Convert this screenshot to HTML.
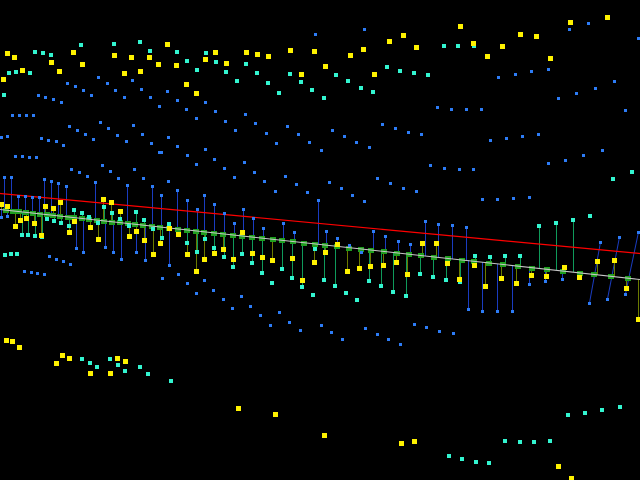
<!DOCTYPE html>
<html>
<head>
<meta charset="utf-8">
<style>
html,body{margin:0;padding:0;background:#000;}
svg{display:block;}
</style>
</head>
<body>
<svg width="640" height="480" viewBox="0 0 640 480" xmlns="http://www.w3.org/2000/svg">
<rect x="0" y="0" width="640" height="480" fill="#000"/>

<!-- blue stems -->
<path fill="none" stroke="#1a3cc0" stroke-width="1" d="M4.5 177V210 M11.5 177V211 M18.5 196V211 M25.5 196V212 M32.5 197V213 M39.5 197V214 M44.5 179V214 M51.5 181V215 M58.5 183V216 M66.5 186V217 M95.5 182V220 M127.5 185V223 M152.5 186V226 M161.5 195V227 M177.5 190V229 M187.5 200V230 M197.5 209V231 M204.5 195V232 M214.5 204V233 M224.5 213V234 M234.5 223V235 M243.5 209V236 M253.5 218V237 M263.5 228V238 M283.5 223V240 M294.5 232V242 M318.5 200V244 M326.5 231V245 M337.5 238V246 M349.5 245V248 M373.5 231V250 M385.5 236V251 M398.5 241V253 M410.5 244V254 M425.5 221V256 M438.5 224V257 M452.5 225V259 M466.5 227V260 M600.5 242L589.5 303 M619.5 237L607.5 299 M638.5 232L625.5 294 M1.5 209V217 M7.5 210V216 M76.5 218V248 M83.5 218V252 M105.5 221V247 M113.5 222V252 M121.5 222V259 M136.5 224V252 M145.5 225V260 M169.5 228V265 M468.5 260V309 M482.5 262V311 M497.5 264V311 M512.5 265V311 M529.5 267V284 M545.5 269V281 M562.5 271V279"/>

<!-- yellow stems -->
<path fill="none" stroke="#6a7a00" stroke-width="1" d="M1.5 209V204 M7.5 210V206 M15.5 211V226 M20.5 212V220 M26.5 212V218 M34.5 213V223 M41.5 214V235 M45.5 214V206 M53.5 215V208 M60.5 216V202 M69.5 217V232 M74.5 217V221 M90.5 219V227 M98.5 220V239 M103.5 221V199 M111.5 221V202 M120.5 222V211 M129.5 223V236 M136.5 224V231 M144.5 225V240 M153.5 226V254 M160.5 227V243 M178.5 229V234 M187.5 230V254 M196.5 231V271 M204.5 232V259 M214.5 233V253 M223.5 234V249 M233.5 235V259 M242.5 236V232 M252.5 237V253 M262.5 238V257 M272.5 239V260 M292.5 241V258 M302.5 242V280 M314.5 244V262 M325.5 245V252 M337.5 246V244 M347.5 247V271 M359.5 249V268 M370.5 250V266 M383.5 251V265 M396.5 253V262 M407.5 254V274 M422.5 256V243 M436.5 257V243 M447.5 258V263 M459.5 260V279 M474.5 261V265 M485.5 262V286 M501.5 264V278 M516.5 266V283 M531.5 267V275 M546.5 269V276 M564.5 271V267 M579.5 273V277 M597.5 275V261 M614.5 277V260 M626.5 278V288 M638.5 279V319"/>

<!-- cyan stems -->
<path fill="none" stroke="#0f9a5a" stroke-width="1" d="M22.5 212V235 M28.5 212V235 M35.5 213V236 M42.5 214V237 M47.5 214V219 M54.5 215V221 M61.5 216V223 M69.5 217V226 M74.5 217V210 M82.5 218V213 M89.5 219V217 M98.5 220V223 M104.5 221V207 M112.5 222V213 M120.5 222V219 M136.5 224V212 M144.5 225V220 M153.5 226V229 M129.5 223V226 M169.5 228V224 M162.5 227V238 M187.5 230V243 M197.5 231V252 M205.5 232V239 M214.5 233V248 M224.5 234V257 M233.5 235V267 M242.5 236V254 M252.5 237V263 M262.5 238V273 M282.5 240V269 M292.5 241V278 M302.5 242V287 M315.5 244V249 M324.5 245V280 M335.5 246V286 M369.5 250V281 M381.5 251V286 M393.5 252V292 M406.5 254V296 M420.5 255V274 M433.5 257V277 M446.5 258V280 M460.5 260V282 M475.5 261V256 M490.5 263V257 M505.5 265V256 M520.5 266V256 M539.5 268V226 M556.5 270V223 M573.5 272V220"/>

<!-- red line -->
<path d="M0 193.5 L640 253.5" stroke="#ff0000" stroke-width="1.2" fill="none"/>

<!-- green markers -->
<path fill="#1e9e1e" shape-rendering="crispEdges" d="M3 208h6v5h-6z M10 209h6v5h-6z M16 209h6v5h-6z M23 210h6v5h-6z M30 211h6v5h-6z M37 212h6v5h-6z M44 212h6v5h-6z M50 213h6v5h-6z M57 214h6v5h-6z M65 215h6v5h-6z M71 215h6v5h-6z M79 216h6v5h-6z M86 217h6v5h-6z M94 218h6v5h-6z M101 219h6v5h-6z M109 220h6v5h-6z M117 220h6v5h-6z M125 221h6v5h-6z M132 222h6v5h-6z M140 223h6v5h-6z M149 224h6v5h-6z M157 225h6v5h-6z M166 226h6v5h-6z M175 227h6v5h-6z M184 228h6v5h-6z M193 229h6v5h-6z M201 230h6v5h-6z M211 231h6v5h-6z M220 232h6v5h-6z M230 233h6v5h-6z M239 234h6v5h-6z M249 235h6v5h-6z M259 236h6v5h-6z M270 237h6v5h-6z M279 238h6v5h-6z M290 239h6v5h-6z M301 241h6v5h-6z M312 242h6v5h-6z M322 243h6v5h-6z M334 244h6v5h-6z M346 246h6v5h-6z M358 247h6v5h-6z M368 248h6v5h-6z M381 249h6v5h-6z M394 251h6v5h-6z M406 252h6v5h-6z M418 253h6v5h-6z M431 255h6v5h-6z M445 256h6v5h-6z M459 258h6v5h-6z M471 259h6v5h-6z M486 261h6v5h-6z M500 262h6v5h-6z M515 264h6v5h-6z M529 266h6v5h-6z M544 267h6v5h-6z M560 269h6v5h-6z M577 271h6v5h-6z M591 272h6v5h-6z M608 274h6v5h-6z M625 276h6v5h-6z"/>

<!-- gray line -->
<path d="M0 209.5 L640 279.5" stroke="#c8c8c8" stroke-width="1" fill="none"/>

<!-- blue points -->
<path fill="#2d7cf6" shape-rendering="crispEdges" d="M66 82h3v3h-3z M74 85h3v3h-3z M82 89h3v3h-3z M90 94h3v3h-3z M97 76h3v3h-3z M106 82h3v3h-3z M114 89h3v3h-3z M123 96h3v3h-3z M131 79h3v3h-3z M140 88h3v3h-3z M149 96h3v3h-3z M158 105h3v3h-3z M37 94h3v3h-3z M44 96h3v3h-3z M52 98h3v3h-3z M60 101h3v3h-3z M11 114h3v3h-3z M18 114h3v3h-3z M25 114h3v3h-3z M32 114h3v3h-3z M68 125h3v3h-3z M76 129h3v3h-3z M84 133h3v3h-3z M92 138h3v3h-3z M99 121h3v3h-3z M107 127h3v3h-3z M116 134h3v3h-3z M125 140h3v3h-3z M132 124h3v3h-3z M141 133h3v3h-3z M150 142h3v3h-3z M158 151h3v3h-3z M0 136h3v3h-3z M6 135h3v3h-3z M40 137h3v3h-3z M47 139h3v3h-3z M55 140h3v3h-3z M62 144h3v3h-3z M14 155h3v3h-3z M21 155h3v3h-3z M28 156h3v3h-3z M35 156h3v3h-3z M70 168h3v3h-3z M78 171h3v3h-3z M86 175h3v3h-3z M101 164h3v3h-3z M109 170h3v3h-3z M117 177h3v3h-3z M133 168h3v3h-3z M142 177h3v3h-3z M314 33h3v3h-3z M166 90h3v3h-3z M176 99h3v3h-3z M185 108h3v3h-3z M195 117h3v3h-3z M204 101h3v3h-3z M214 110h3v3h-3z M224 120h3v3h-3z M234 129h3v3h-3z M244 113h3v3h-3z M254 122h3v3h-3z M265 132h3v3h-3z M275 142h3v3h-3z M286 125h3v3h-3z M297 133h3v3h-3z M308 141h3v3h-3z M167 136h3v3h-3z M176 145h3v3h-3z M186 154h3v3h-3z M195 163h3v3h-3z M204 148h3v3h-3z M213 158h3v3h-3z M223 167h3v3h-3z M233 176h3v3h-3z M243 161h3v3h-3z M253 171h3v3h-3z M263 180h3v3h-3z M274 190h3v3h-3z M284 175h3v3h-3z M295 183h3v3h-3z M306 191h3v3h-3z M160 151h3v3h-3z M167 180h3v3h-3z M363 28h3v3h-3z M436 106h3v3h-3z M450 108h3v3h-3z M465 108h3v3h-3z M331 129h3v3h-3z M343 135h3v3h-3z M355 141h3v3h-3z M368 146h3v3h-3z M320 149h3v3h-3z M381 123h3v3h-3z M394 127h3v3h-3z M407 131h3v3h-3z M420 133h3v3h-3z M429 164h3v3h-3z M443 167h3v3h-3z M458 168h3v3h-3z M472 168h3v3h-3z M328 181h3v3h-3z M340 187h3v3h-3z M351 194h3v3h-3z M363 200h3v3h-3z M376 177h3v3h-3z M389 182h3v3h-3z M402 187h3v3h-3z M415 190h3v3h-3z M587 22h3v3h-3z M568 28h3v3h-3z M637 37h3v3h-3z M497 76h3v3h-3z M514 73h3v3h-3z M530 70h3v3h-3z M547 68h3v3h-3z M557 97h3v3h-3z M575 92h3v3h-3z M594 87h3v3h-3z M613 80h3v3h-3z M624 109h3v3h-3z M480 108h3v3h-3z M489 139h3v3h-3z M505 137h3v3h-3z M521 135h3v3h-3z M537 133h3v3h-3z M547 162h3v3h-3z M564 159h3v3h-3z M582 154h3v3h-3z M601 149h3v3h-3z M481 198h3v3h-3z M496 198h3v3h-3z M512 197h3v3h-3z M528 196h3v3h-3z M48 255h3v3h-3z M55 258h3v3h-3z M62 260h3v3h-3z M69 263h3v3h-3z M23 270h3v3h-3z M30 271h3v3h-3z M36 272h3v3h-3z M43 273h3v3h-3z M161 277h3v3h-3z M177 273h3v3h-3z M186 282h3v3h-3z M195 292h3v3h-3z M203 279h3v3h-3z M212 289h3v3h-3z M222 298h3v3h-3z M231 307h3v3h-3z M240 295h3v3h-3z M249 305h3v3h-3z M259 314h3v3h-3z M269 324h3v3h-3z M278 311h3v3h-3z M288 321h3v3h-3z M299 329h3v3h-3z M320 324h3v3h-3z M330 331h3v3h-3z M341 338h3v3h-3z M364 327h3v3h-3z M376 333h3v3h-3z M387 338h3v3h-3z M399 343h3v3h-3z M413 323h3v3h-3z M425 326h3v3h-3z M438 330h3v3h-3z M452 332h3v3h-3z M3 176h3v3h-3z M10 176h3v3h-3z M17 195h3v3h-3z M24 195h3v3h-3z M31 196h3v3h-3z M38 196h3v3h-3z M43 178h3v3h-3z M50 180h3v3h-3z M57 182h3v3h-3z M65 185h3v3h-3z M94 181h3v3h-3z M126 184h3v3h-3z M151 185h3v3h-3z M160 194h3v3h-3z M176 189h3v3h-3z M186 199h3v3h-3z M196 208h3v3h-3z M203 194h3v3h-3z M213 203h3v3h-3z M223 212h3v3h-3z M233 222h3v3h-3z M242 208h3v3h-3z M252 217h3v3h-3z M262 227h3v3h-3z M282 222h3v3h-3z M293 231h3v3h-3z M317 199h3v3h-3z M325 230h3v3h-3z M336 237h3v3h-3z M348 244h3v3h-3z M360 251h3v3h-3z M372 230h3v3h-3z M384 235h3v3h-3z M397 240h3v3h-3z M409 243h3v3h-3z M424 220h3v3h-3z M437 223h3v3h-3z M451 224h3v3h-3z M465 226h3v3h-3z M599 241h3v3h-3z M618 236h3v3h-3z M637 231h3v3h-3z M0 216h3v3h-3z M6 215h3v3h-3z M75 247h3v3h-3z M82 251h3v3h-3z M104 246h3v3h-3z M112 251h3v3h-3z M120 258h3v3h-3z M135 251h3v3h-3z M144 259h3v3h-3z M168 264h3v3h-3z M467 308h3v3h-3z M481 310h3v3h-3z M496 310h3v3h-3z M511 310h3v3h-3z M528 283h3v3h-3z M544 280h3v3h-3z M561 278h3v3h-3z M588 302h3v3h-3z M606 298h3v3h-3z M624 293h3v3h-3z"/>

<!-- cyan points -->
<path fill="#33f5d0" shape-rendering="crispEdges" d="M7 71h4v4h-4z M14 70h4v4h-4z M28 71h4v4h-4z M33 50h4v4h-4z M41 51h4v4h-4z M49 53h4v4h-4z M79 43h4v4h-4z M112 42h4v4h-4z M138 40h4v4h-4z M148 49h4v4h-4z M2 93h4v4h-4z M175 50h4v4h-4z M185 59h4v4h-4z M195 68h4v4h-4z M204 51h4v4h-4z M214 60h4v4h-4z M224 70h4v4h-4z M235 79h4v4h-4z M244 62h4v4h-4z M255 71h4v4h-4z M266 81h4v4h-4z M277 91h4v4h-4z M288 72h4v4h-4z M299 80h4v4h-4z M310 88h4v4h-4z M334 73h4v4h-4z M346 79h4v4h-4z M359 86h4v4h-4z M371 90h4v4h-4z M322 96h4v4h-4z M385 65h4v4h-4z M398 69h4v4h-4z M412 71h4v4h-4z M426 73h4v4h-4z M442 44h4v4h-4z M456 44h4v4h-4z M472 44h4v4h-4z M630 170h4v4h-4z M611 177h4v4h-4z M588 214h4v4h-4z M3 253h4v4h-4z M9 252h4v4h-4z M15 252h4v4h-4z M20 233h4v4h-4z M26 233h4v4h-4z M33 234h4v4h-4z M40 235h4v4h-4z M45 217h4v4h-4z M52 219h4v4h-4z M59 221h4v4h-4z M67 224h4v4h-4z M72 208h4v4h-4z M80 211h4v4h-4z M87 215h4v4h-4z M96 221h4v4h-4z M102 205h4v4h-4z M110 211h4v4h-4z M118 217h4v4h-4z M134 210h4v4h-4z M142 218h4v4h-4z M151 227h4v4h-4z M127 224h4v4h-4z M167 222h4v4h-4z M160 236h4v4h-4z M185 241h4v4h-4z M195 250h4v4h-4z M203 237h4v4h-4z M212 246h4v4h-4z M222 255h4v4h-4z M231 265h4v4h-4z M240 252h4v4h-4z M250 261h4v4h-4z M260 271h4v4h-4z M280 267h4v4h-4z M290 276h4v4h-4z M300 285h4v4h-4z M270 281h4v4h-4z M311 293h4v4h-4z M313 247h4v4h-4z M322 278h4v4h-4z M333 284h4v4h-4z M367 279h4v4h-4z M379 284h4v4h-4z M391 290h4v4h-4z M404 294h4v4h-4z M418 272h4v4h-4z M431 275h4v4h-4z M444 278h4v4h-4z M458 280h4v4h-4z M473 254h4v4h-4z M344 291h4v4h-4z M355 298h4v4h-4z M488 255h4v4h-4z M503 254h4v4h-4z M518 254h4v4h-4z M537 224h4v4h-4z M554 221h4v4h-4z M571 218h4v4h-4z M80 357h4v4h-4z M88 361h4v4h-4z M95 365h4v4h-4z M108 357h4v4h-4z M116 363h4v4h-4z M123 369h4v4h-4z M138 365h4v4h-4z M146 372h4v4h-4z M169 379h4v4h-4z M447 454h4v4h-4z M460 457h4v4h-4z M474 460h4v4h-4z M487 461h4v4h-4z M503 439h4v4h-4z M518 440h4v4h-4z M532 440h4v4h-4z M548 439h4v4h-4z M566 413h4v4h-4z M583 411h4v4h-4z M600 408h4v4h-4z M618 405h4v4h-4z"/>

<!-- yellow points -->
<path fill="#fff200" shape-rendering="crispEdges" d="M5 51h5v5h-5z M12 55h5v5h-5z M20 68h5v5h-5z M1 77h5v5h-5z M49 60h5v5h-5z M57 69h5v5h-5z M71 50h5v5h-5z M80 62h5v5h-5z M112 53h5v5h-5z M122 71h5v5h-5z M129 55h5v5h-5z M138 69h5v5h-5z M147 55h5v5h-5z M156 62h5v5h-5z M165 42h5v5h-5z M174 63h5v5h-5z M184 82h5v5h-5z M194 91h5v5h-5z M203 57h5v5h-5z M213 50h5v5h-5z M224 61h5v5h-5z M244 50h5v5h-5z M255 52h5v5h-5z M266 54h5v5h-5z M288 48h5v5h-5z M299 72h5v5h-5z M312 49h5v5h-5z M323 64h5v5h-5z M348 53h5v5h-5z M361 47h5v5h-5z M372 72h5v5h-5z M387 39h5v5h-5z M401 33h5v5h-5z M414 45h5v5h-5z M458 24h5v5h-5z M471 41h5v5h-5z M485 54h5v5h-5z M500 44h5v5h-5z M518 32h5v5h-5z M534 34h5v5h-5z M548 56h5v5h-5z M568 20h5v5h-5z M605 15h5v5h-5z M-1 202h5v5h-5z M5 204h5v5h-5z M13 224h5v5h-5z M18 218h5v5h-5z M24 216h5v5h-5z M32 221h5v5h-5z M39 233h5v5h-5z M43 204h5v5h-5z M51 206h5v5h-5z M58 200h5v5h-5z M67 230h5v5h-5z M72 219h5v5h-5z M88 225h5v5h-5z M96 237h5v5h-5z M101 197h5v5h-5z M109 200h5v5h-5z M118 209h5v5h-5z M127 234h5v5h-5z M134 229h5v5h-5z M142 238h5v5h-5z M151 252h5v5h-5z M158 241h5v5h-5z M167 226h5v5h-5z M176 232h5v5h-5z M185 252h5v5h-5z M194 269h5v5h-5z M202 257h5v5h-5z M212 251h5v5h-5z M221 247h5v5h-5z M231 257h5v5h-5z M240 230h5v5h-5z M250 251h5v5h-5z M260 255h5v5h-5z M270 258h5v5h-5z M290 256h5v5h-5z M300 278h5v5h-5z M312 260h5v5h-5z M323 250h5v5h-5z M335 242h5v5h-5z M345 269h5v5h-5z M357 266h5v5h-5z M368 264h5v5h-5z M381 263h5v5h-5z M394 260h5v5h-5z M405 272h5v5h-5z M420 241h5v5h-5z M434 241h5v5h-5z M445 261h5v5h-5z M457 277h5v5h-5z M472 263h5v5h-5z M483 284h5v5h-5z M499 276h5v5h-5z M514 281h5v5h-5z M529 273h5v5h-5z M544 274h5v5h-5z M562 265h5v5h-5z M577 275h5v5h-5z M595 259h5v5h-5z M612 258h5v5h-5z M624 286h5v5h-5z M636 317h5v5h-5z M4 338h5v5h-5z M10 339h5v5h-5z M17 345h5v5h-5z M60 353h5v5h-5z M67 356h5v5h-5z M54 361h5v5h-5z M88 371h5v5h-5z M108 371h5v5h-5z M115 356h5v5h-5z M123 359h5v5h-5z M236 406h5v5h-5z M273 412h5v5h-5z M322 433h5v5h-5z M399 441h5v5h-5z M412 439h5v5h-5z M556 464h5v5h-5z M569 476h5v5h-5z"/>
</svg>
</body>
</html>
